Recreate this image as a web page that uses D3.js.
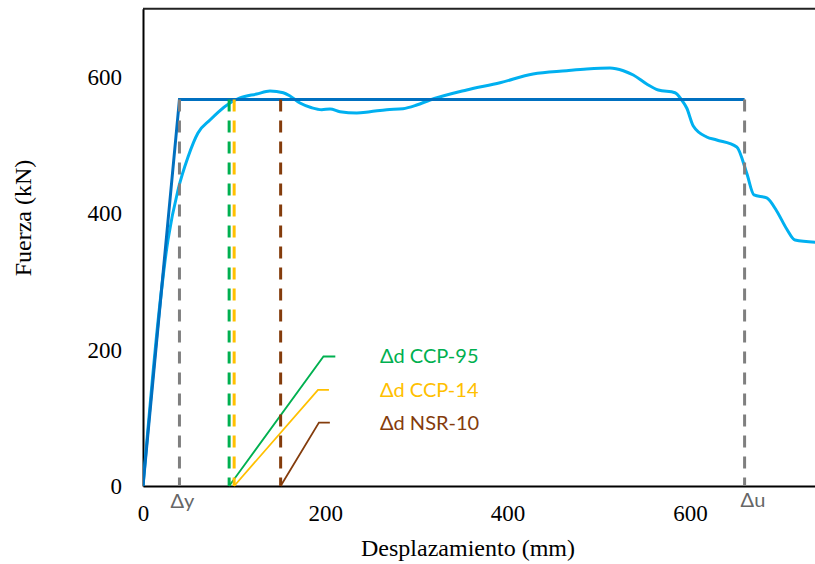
<!DOCTYPE html>
<html>
<head>
<meta charset="utf-8">
<script src="https://cdn.jsdelivr.net/npm/d3@7"></script>
<style>
  html, body { margin: 0; padding: 0; background: #fff; }
  svg { display: block; }
</style>
</head>
<body>
<svg id="chart" width="815" height="564"></svg>
<script>
// ---------- data ----------
const xTicks = [0, 200, 400, 600];
const yTicks = [0, 200, 400, 600];

// experimental capacity curve (displacement mm, force kN)
const expX = [0, 27.4, 38.4, 49.4, 60.3, 73.5, 82.6, 95.4, 106.4, 124.7, 139.3, 153.9, 161.3, 172.2, 185.1, 196.1, 205.2, 216.1, 234.5, 249.0, 267.4, 285.2, 300.3, 314.9, 355.1, 391.7, 427.9, 464.8, 486.8, 512.3, 527.0, 537.9, 552.6, 565.3, 583.7, 591.0, 596.5, 603.7, 618.4, 629.4, 651.4, 662.3, 670.3, 684.3, 695.2, 706.2, 715.3, 740];
const expF = [0, 360.9, 434.2, 482.6, 517.8, 536.9, 548.6, 561.8, 569.2, 575.0, 579.4, 576.9, 572.1, 561.8, 554.9, 552.0, 553.0, 549.1, 547.2, 549.1, 552.0, 553.5, 558.9, 566.2, 580.9, 591.6, 604.4, 609.2, 611.7, 613.2, 609.2, 602.9, 589.7, 580.9, 576.9, 566.2, 554.5, 528.1, 512.0, 507.6, 497.3, 459.1, 426.9, 422.5, 403.4, 377.0, 360.9, 357.5];

// idealized bilinear curve
const bilinX = [0, 40, 660];
const bilinF = [0, 567, 567];

// yield / ultimate displacement markers
const markX = [40, 660];
const markLabels = ["Δy", "Δu"];
const yieldF = 567;

// design displacements
const ddLabels = ["Δd CCP-95", "Δd CCP-14", "Δd NSR-10"];
const ddX = [94.5, 100, 151];
const ddColors = ["#00B050", "#FFC000", "#843C0C"];
const leaderKinkX = [198, 192, 193];
const leaderKinkF = [190, 141, 93];
const leaderEndX = [211, 204, 205];
const labelX = 260;

// ---------- drawing ----------
const svg = d3.select("#chart");
const W = 815, H = 564;
const x = d3.scaleLinear().domain([0, 800]).range([143, 143 + 0.9115 * 800]);
const y = d3.scaleLinear().domain([0, 700]).range([486, 486 - 0.6817 * 700]);

const serif = "'Liberation Serif', 'Times New Roman', serif";
const sans = "Lato, 'Open Sans', sans-serif";

// top border
svg.append("line")
  .attr("x1", x(0)).attr("x2", W)
  .attr("y1", y(700)).attr("y2", y(700))
  .attr("stroke", "#222").attr("stroke-width", 2);

// axes
const xAxis = svg.append("g")
  .attr("transform", `translate(0,${y(0)})`)
  .call(d3.axisBottom(x).tickValues(xTicks).tickSize(0).tickSizeOuter(0).tickPadding(19));
const yAxis = svg.append("g")
  .attr("transform", `translate(${x(0)},0)`)
  .call(d3.axisLeft(y).tickValues(yTicks).tickSize(0).tickSizeOuter(0).tickPadding(21));
[xAxis, yAxis].forEach(g => {
  g.select(".domain").attr("stroke", "#000").attr("stroke-width", 2);
  g.selectAll(".tick text").attr("font-family", serif).attr("font-size", 23).attr("fill", "#000");
});

// axis titles
svg.append("text")
  .attr("x", 468).attr("y", 556)
  .attr("text-anchor", "middle")
  .attr("font-family", serif).attr("font-size", 24)
  .text("Desplazamiento (mm)");
svg.append("text")
  .attr("transform", `translate(31,218) rotate(-90)`)
  .attr("text-anchor", "middle")
  .attr("font-family", serif).attr("font-size", 24)
  .text("Fuerza (kN)");

svg.append("clipPath").attr("id", "clip")
  .append("rect").attr("x", x(0)).attr("y", y(700)).attr("width", W - x(0)).attr("height", y(0) - y(700));
const plot = svg.append("g").attr("clip-path", "url(#clip)");

// experimental curve
const expData = expX.map((d, i) => [d, expF[i]]);
plot.append("path")
  .datum(expData)
  .attr("fill", "none")
  .attr("stroke", "#00B0F0")
  .attr("stroke-width", 3)
  .attr("stroke-linejoin", "round")
  .attr("d", d3.line().x(d => x(d[0])).y(d => y(d[1])).curve(d3.curveMonotoneX));

// bilinear
const bilData = bilinX.map((d, i) => [d, bilinF[i]]);
plot.append("path")
  .datum(bilData)
  .attr("fill", "none")
  .attr("stroke", "#0070C0")
  .attr("stroke-width", 3)
  .attr("d", d3.line().x(d => x(d[0])).y(d => y(d[1])));

// gray dashed markers
markX.forEach((mx, i) => {
  svg.append("line")
    .attr("x1", x(mx)).attr("x2", x(mx))
    .attr("y1", y(yieldF)).attr("y2", y(0))
    .attr("stroke", "#7F7F7F").attr("stroke-width", 3)
    .attr("stroke-dasharray", "12,9");
});
svg.append("text").attr("x", x(markX[0]) - 9).attr("y", 508)
  .attr("font-family", sans).attr("font-size", 20).attr("fill", "#666")
  .text(markLabels[0]);
svg.append("text").attr("x", x(markX[1]) - 4).attr("y", 507)
  .attr("font-family", sans).attr("font-size", 20).attr("fill", "#666")
  .text(markLabels[1]);

// design displacement dashed lines, leaders, labels
ddX.forEach((dx, i) => {
  svg.append("line")
    .attr("x1", x(dx)).attr("x2", x(dx))
    .attr("y1", y(yieldF)).attr("y2", y(0))
    .attr("stroke", ddColors[i]).attr("stroke-width", 3)
    .attr("stroke-dasharray", "12,9");
  svg.append("path")
    .attr("fill", "none")
    .attr("stroke", ddColors[i]).attr("stroke-width", 1.8)
    .attr("d", d3.line()([[x(dx), y(0)], [x(leaderKinkX[i]), y(leaderKinkF[i])], [x(leaderEndX[i]), y(leaderKinkF[i])]]));
  svg.append("text")
    .attr("x", x(labelX)).attr("y", y(leaderKinkF[i]))
    .attr("dy", "0.35em")
    .attr("font-family", sans).attr("font-size", 20)
    .attr("fill", ddColors[i])
    .text(ddLabels[i]);
});
</script>
</body>
</html>
